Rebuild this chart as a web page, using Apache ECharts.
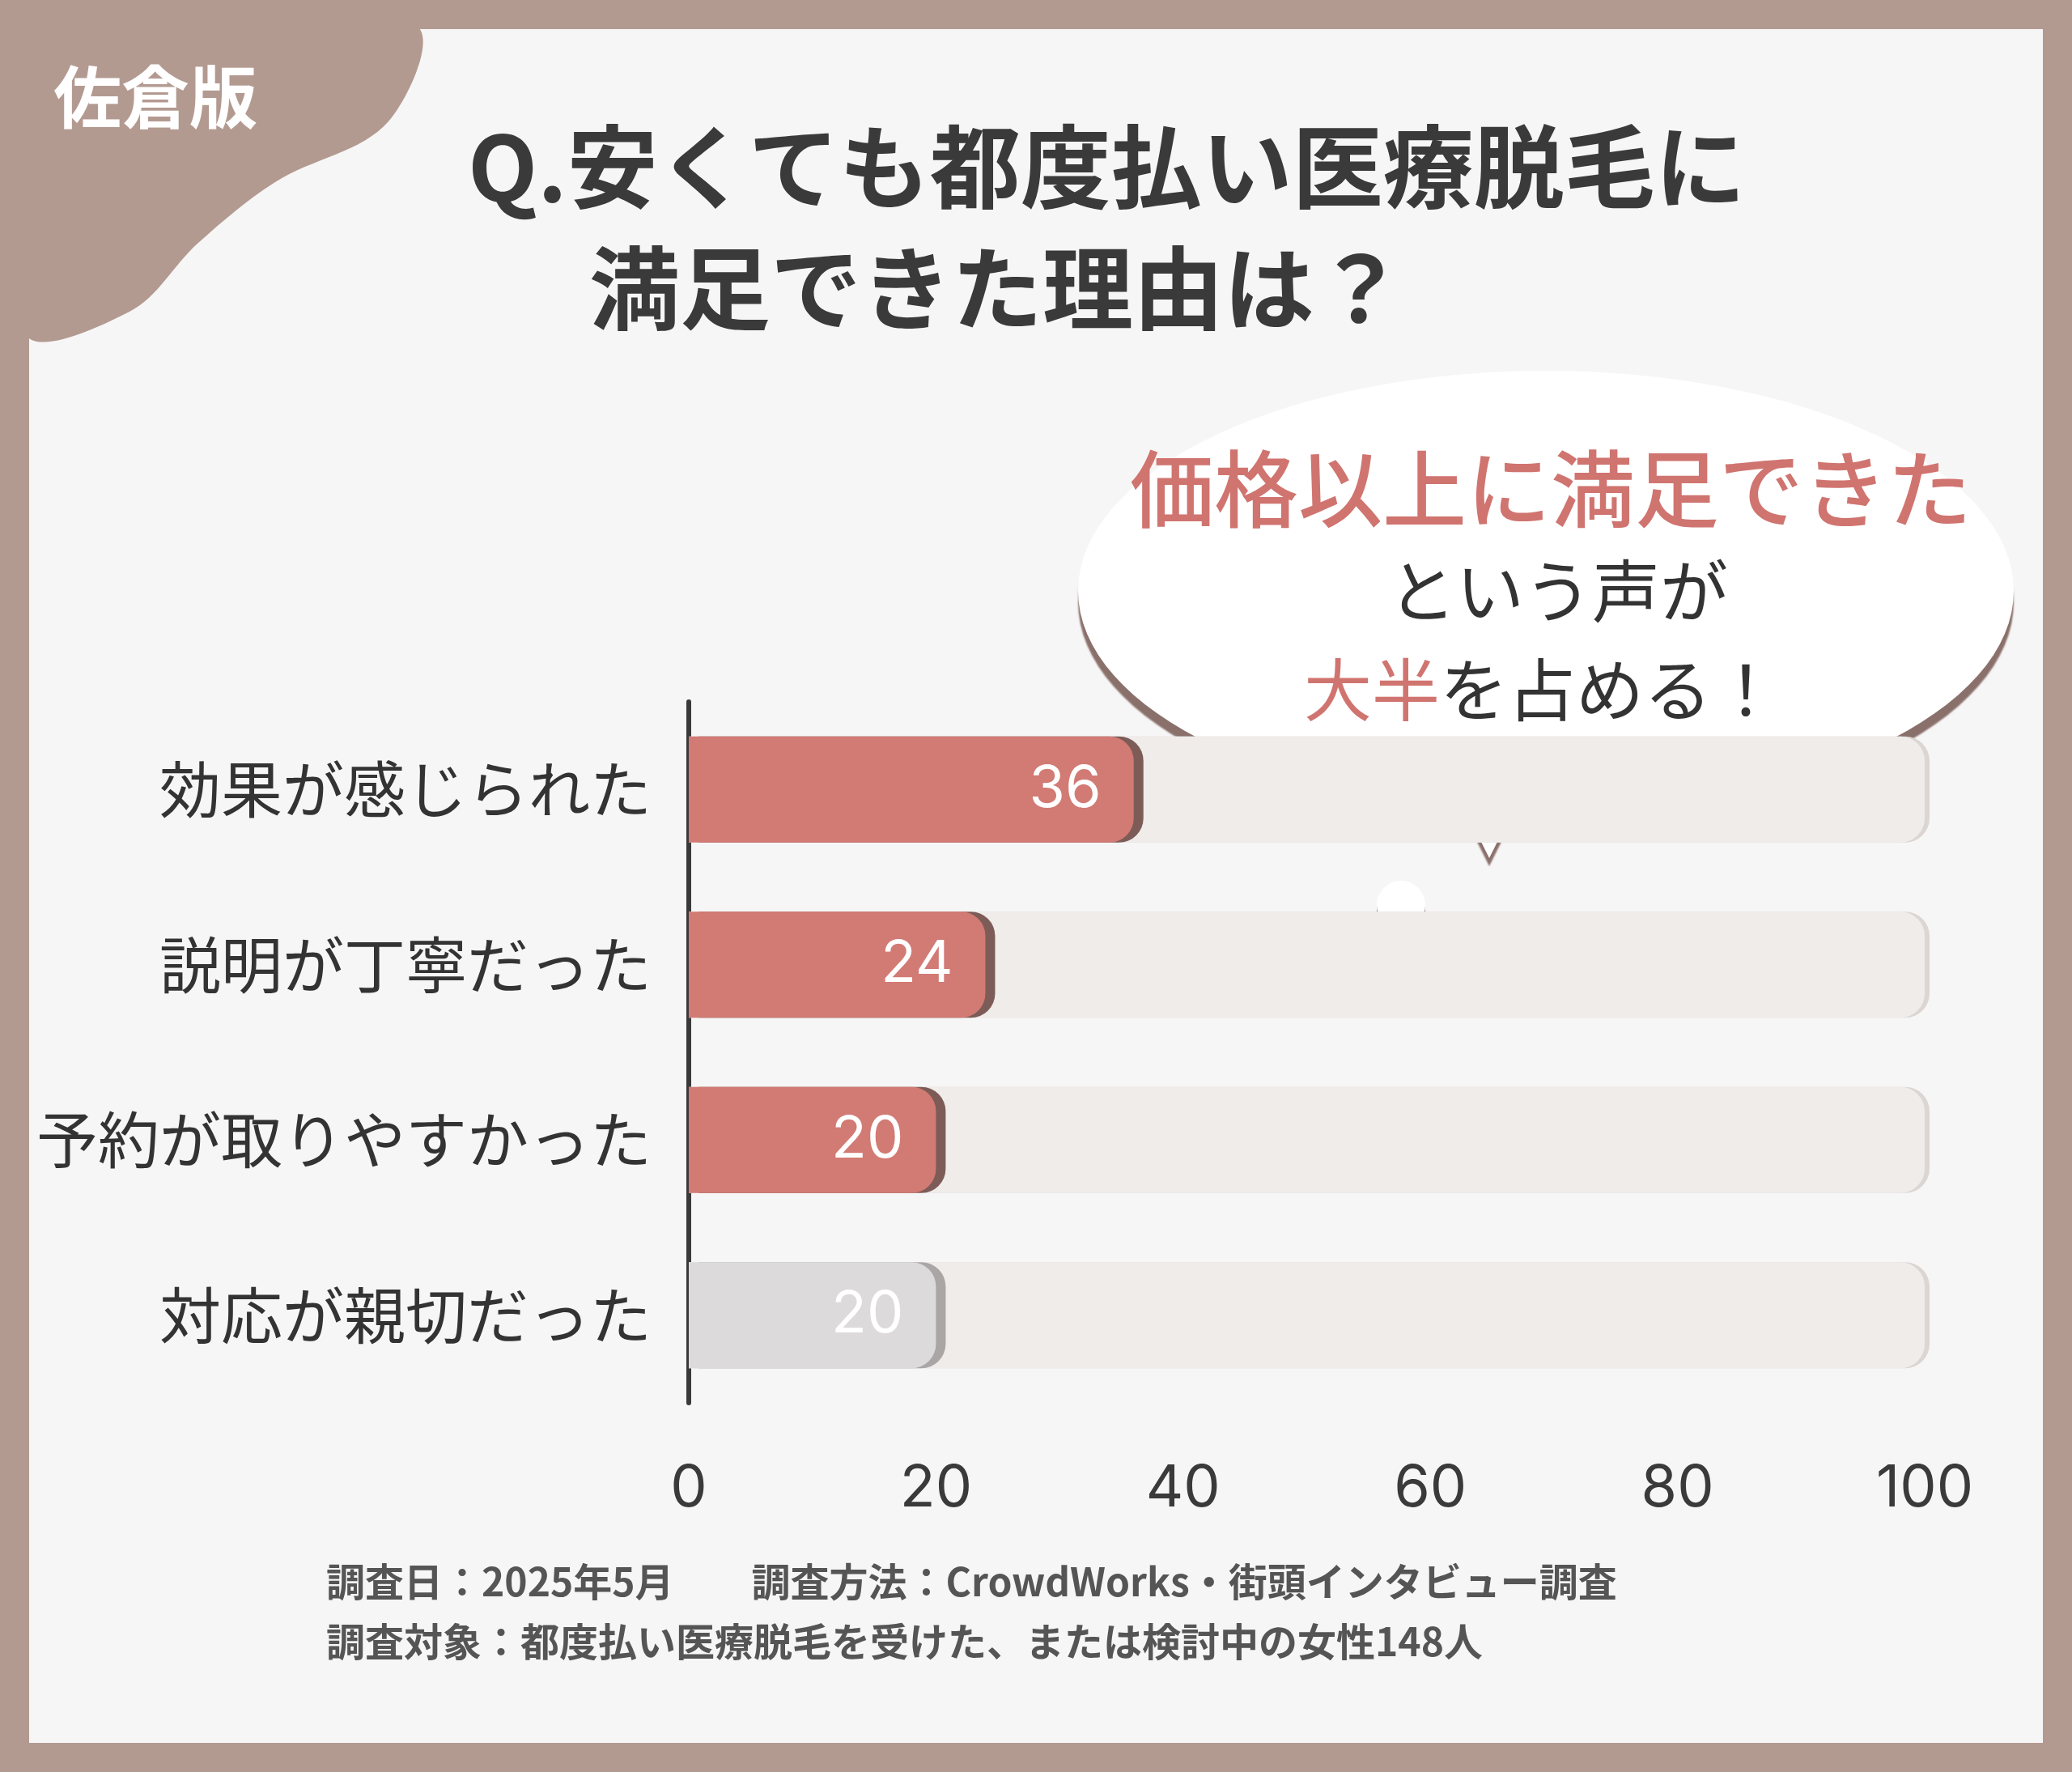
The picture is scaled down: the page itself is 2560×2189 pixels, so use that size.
<!DOCTYPE html>
<html><head><meta charset="utf-8">
<script src="https://cdn.jsdelivr.net/npm/echarts@6/dist/echarts.min.js"></script>
<style>html,body{margin:0;padding:0;background:#b39a91}#main{width:2560px;height:2189px}</style>
</head><body><div id="main"></div>
<script>
const categories = ['効果が感じられた', '説明が丁寧だった', '予約が取りやすかった', '対応が親切だった'];
const values = [36, 24, 20, 20];
const barColors = ['#d27a74', '#d27a74', '#d27a74', '#dcdada'];
const edgeColors = ['#7d5c57', '#7d5c57', '#7d5c57', '#a9a6a5'];
const xTicks = [0, 20, 40, 60, 80, 100];

const chart = echarts.init(document.getElementById('main'));
const jp = '"Noto Sans CJK JP", sans-serif';

chart.setOption({
  backgroundColor: '#b39a91',
  textStyle: { fontFamily: jp },
  grid: { left: 851, right: 182, top: 867, bottom: 456, containLabel: false },
  xAxis: {
    type: 'value', min: 0, max: 100, interval: 20,
    splitLine: { show: false }, axisLine: { show: false }, axisTick: { show: false },
    axisLabel: { margin: 70, fontSize: 72, color: '#3a3a3a', fontFamily: 'Inter, "Noto Sans", sans-serif',
      formatter: v => xTicks.includes(v) ? String(v) : '' }
  },
  yAxis: {
    type: 'category', inverse: true, data: categories,
    axisTick: { show: false },
    axisLine: { lineStyle: { color: '#3a3a3a', width: 6 } },
    axisLabel: { margin: 46, fontSize: 76, color: '#333', fontFamily: jp }
  },
  graphic: [
    { type: 'rect', z: -10, shape: { x: 36, y: 36, width: 2488, height: 2117 }, style: { fill: '#f7f6f6' } },
    { type: 'polygon', z: -5, shape: { smooth: 0.35, points: [[30, 30], [510, 30], [480, 150], [340, 225], [245, 300], [160, 385], [30, 410]] }, style: { fill: '#b39a91' } },
    { type: 'text', left: 66, top: 78, style: { text: '佐倉版', fill: '#fff', font: 'bold 84px "Noto Sans CJK JP"' } },
    { type: 'text', left: 578, top: 150, style: { text: 'Q.安くても都度払い医療脱毛に', fill: '#3a3a3a', font: 'bold 112px "Noto Sans CJK JP"' } },
    { type: 'text', left: 728, top: 300, style: { text: '満足できた理由は？', fill: '#3a3a3a', font: 'bold 112px "Noto Sans CJK JP"' } },
    // speech bubble
    { type: 'group', z: 50, children: [
      { type: 'circle', x: 1910, y: 730, scaleX: 578 / 272, shape: { cx: 0, cy: 0, r: 272 },
        style: { fill: '#fff', shadowColor: '#8a706b', shadowOffsetY: 14, shadowBlur: 2 } },
      { type: 'polygon', shape: { points: [[1800, 980], [1880, 980], [1840, 1060]] },
        style: { fill: '#fff', shadowColor: '#8a706b', shadowOffsetY: 10, shadowBlur: 2 } },
      { type: 'rect', shape: { x: 1720, y: 920, width: 280, height: 70 }, style: { fill: '#fff' } },
      { type: 'circle', shape: { cx: 1731, cy: 1118, r: 30 }, style: { fill: '#fff', shadowColor: '#8a706b', shadowOffsetY: 8 } },
      { type: 'circle', shape: { cx: 1662, cy: 1145, r: 16 }, style: { fill: '#fff', shadowColor: '#8a706b', shadowOffsetY: 6 } },
      { type: 'text', x: 1916, y: 604, style: { text: '価格以上に満足できた', fill: '#d07470', font: '500 104px "Noto Sans CJK JP"', align: 'center', verticalAlign: 'middle' } },
      { type: 'text', x: 1925, y: 730, style: { text: 'という声が', fill: '#333', font: '84px "Noto Sans CJK JP"', align: 'center', verticalAlign: 'middle' } },
      { type: 'text', x: 1905, y: 852, style: { rich: { p: { fill: '#d07470', font: '84px "Noto Sans CJK JP"' }, d: { fill: '#333', font: '84px "Noto Sans CJK JP"' } },
        text: '{p|大半}{d|を占める！}', align: 'center', verticalAlign: 'middle' } }
    ] },
    { type: 'text', left: 403, top: 1930, style: { text: '調査日：2025年5月　　調査方法：CrowdWorks・街頭インタビュー調査', fill: '#555', font: 'bold 48px "Noto Sans CJK JP"' } },
    { type: 'text', left: 403, top: 2004, style: { text: '調査対象：都度払い医療脱毛を受けた、または検討中の女性148人', fill: '#555', font: 'bold 48px "Noto Sans CJK JP"' } }
  ],
  series: [{
    type: 'bar', barWidth: 131, z: 5,
    showBackground: true,
    backgroundStyle: { color: '#efecea', borderRadius: [0, 30, 30, 0], shadowColor: '#dcd6d3', shadowOffsetX: 6 },
    data: values.map((v, i) => ({
      value: v,
      itemStyle: { color: barColors[i], borderRadius: [0, 30, 30, 0], shadowColor: edgeColors[i], shadowOffsetX: 12 }
    })),
    label: { show: true, position: 'insideRight', distance: 40, fontSize: 72, color: '#fff', fontFamily: 'Inter, "Noto Sans", sans-serif' }
  }]
});
</script></body></html>
